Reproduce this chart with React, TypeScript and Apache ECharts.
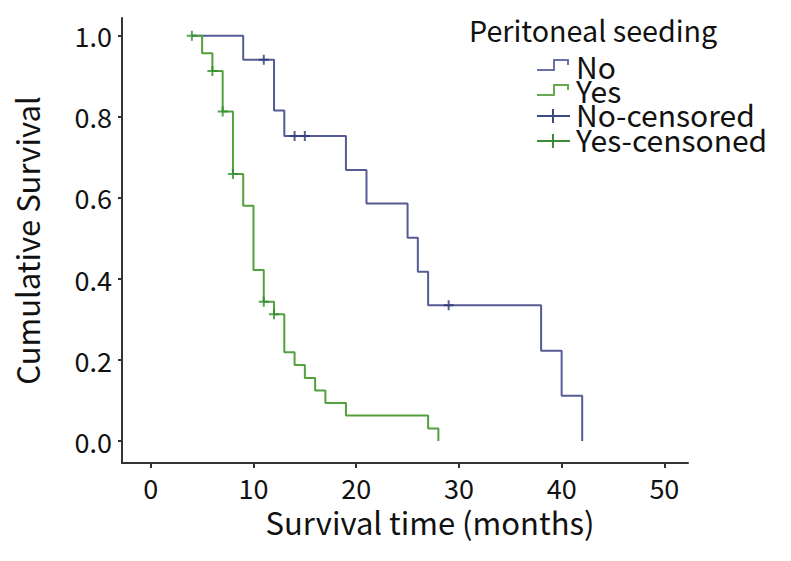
import React, { useEffect, useRef } from "react";
import * as echarts from "echarts";

const FONT = "'Noto Sans CJK KR', 'Noto Sans', sans-serif";

// Kaplan-Meier step data (time in months, cumulative survival)
const timesNo = [4, 9, 12, 13, 19, 21, 25, 26, 27, 38, 40, 42];
const survNo = [1.0, 0.941, 0.816, 0.753, 0.669, 0.586, 0.502, 0.418, 0.335, 0.223, 0.112, 0];
const timesYes = [4, 5, 6, 7, 8, 9, 10, 11, 12, 13, 14, 15, 16, 17, 19, 27, 28];
const survYes = [1.0, 0.957, 0.913, 0.813, 0.659, 0.581, 0.422, 0.344, 0.313, 0.219, 0.188, 0.156, 0.125, 0.094, 0.063, 0.031, 0];

// Censored observations
const censorTimesNo = [11, 14, 15, 29];
const censorSurvNo = [0.941, 0.753, 0.753, 0.335];
const censorTimesYes = [4, 6, 7, 8, 11, 12];
const censorSurvYes = [1.0, 0.913, 0.813, 0.659, 0.344, 0.313];

const xTicks = [0, 10, 20, 30, 40, 50];
const yTicks = [0, 0.2, 0.4, 0.6, 0.8, 1.0];

const legendTitle = "Peritoneal seeding";
const legendLabels = ["No", "Yes", "No-censored", "Yes-censoned"];

const BLUE_LINE = "#555b94";
const BLUE_MARK = "#2c3878";
const GREEN_LINE = "#52a03e";
const GREEN_MARK = "#2f8c2c";

const PLUS = "path://M0,4h10v2h-10z M4,0h2v10h-2z";

export default function App() {
  const ref = useRef<HTMLDivElement>(null);
  useEffect(() => {
    if (!ref.current) return;
    const chart = echarts.init(ref.current, null, { renderer: "svg" });
    const zip = (a: number[], b: number[]) => a.map((t, i) => [t, b[i]]);
    const textStyle = { fontFamily: FONT, fontSize: 30, fill: "#111", lineHeight: 23, verticalAlign: "middle" };
    const stepIcon = (y: number, color: string) => ({
      type: "polyline",
      shape: { points: [[537, y + 10], [554, y + 10], [554, y], [568, y], [568, y + 5]] },
      style: { stroke: color, lineWidth: 2, fill: "none" },
    });
    const crossIcon = (y: number, color: string) => ({
      type: "group",
      children: [
        { type: "line", shape: { x1: 537, y1: y, x2: 570, y2: y }, style: { stroke: color, lineWidth: 2 } },
        { type: "line", shape: { x1: 553, y1: y - 7, x2: 553, y2: y + 7 }, style: { stroke: color, lineWidth: 2 } },
      ],
    });
    chart.setOption({
      animation: false,
      backgroundColor: "#fff",
      grid: { left: 122, right: 103, top: 18, bottom: 98, containLabel: false },
      xAxis: {
        type: "value",
        min: -2.8,
        max: 52.3,
        name: "Survival time (months)",
        nameLocation: "middle",
        nameGap: 40,
        nameTextStyle: { fontFamily: FONT, fontSize: 31, color: "#111", padding: [0, 0, 0, 50] },
        axisLine: { show: true, onZero: false, lineStyle: { color: "#333", width: 2 } },
        axisTick: { show: true, length: 5, customValues: xTicks, lineStyle: { color: "#333", width: 2 } },
        axisLabel: {
          customValues: xTicks,
          fontFamily: FONT,
          fontSize: 27,
          color: "#111",
          margin: 11,
        },
        splitLine: { show: false },
      },
      yAxis: {
        type: "value",
        min: -0.054,
        max: 1.044,
        name: "Cumulative Survival",
        nameLocation: "middle",
        nameGap: 80,
        nameTextStyle: { fontFamily: FONT, fontSize: 31, color: "#111" },
        axisLine: { show: true, onZero: false, lineStyle: { color: "#333", width: 2 } },
        axisTick: { show: true, length: 4, customValues: yTicks, lineStyle: { color: "#333", width: 2 } },
        axisLabel: {
          customValues: yTicks,
          fontFamily: FONT,
          fontSize: 27,
          color: "#111",
          margin: 10,
          formatter: (v: number) => v.toFixed(1),
        },
        splitLine: { show: false },
      },
      series: [
        {
          name: "No",
          type: "line",
          step: "end",
          data: zip(timesNo, survNo),
          showSymbol: false,
          lineStyle: { color: BLUE_LINE, width: 2 },
          z: 2,
        },
        {
          name: "Yes",
          type: "line",
          step: "end",
          data: zip(timesYes, survYes),
          showSymbol: false,
          lineStyle: { color: GREEN_LINE, width: 2 },
          z: 3,
        },
        {
          name: "No-censored",
          type: "scatter",
          data: zip(censorTimesNo, censorSurvNo),
          symbol: PLUS,
          symbolSize: [10, 10],
          itemStyle: { color: BLUE_MARK },
          z: 4,
        },
        {
          name: "Yes-censoned",
          type: "scatter",
          data: zip(censorTimesYes, censorSurvYes),
          symbol: PLUS,
          symbolSize: [10, 10],
          itemStyle: { color: GREEN_MARK },
          z: 5,
        },
      ],
      graphic: [
        { type: "text", x: 469, y: 29, style: { ...textStyle, fontSize: 28.7, text: legendTitle } },
        stepIcon(60, "#6a70a8"),
        stepIcon(85, "#68a852"),
        crossIcon(116, "#3c4a80"),
        crossIcon(141, "#3d8c3a"),
        { type: "text", x: 576, y: 66, style: { ...textStyle, text: legendLabels[0] } },
        { type: "text", x: 576, y: 90, style: { ...textStyle, text: legendLabels[1] } },
        { type: "text", x: 576, y: 114, style: { ...textStyle, text: legendLabels[2] } },
        { type: "text", x: 576, y: 139, style: { ...textStyle, text: legendLabels[3] } },
      ],
    });
    return () => chart.dispose();
  }, []);
  return <div ref={ref} style={{ width: 791, height: 561, position: "absolute", left: 0, top: 0 }} />;
}
